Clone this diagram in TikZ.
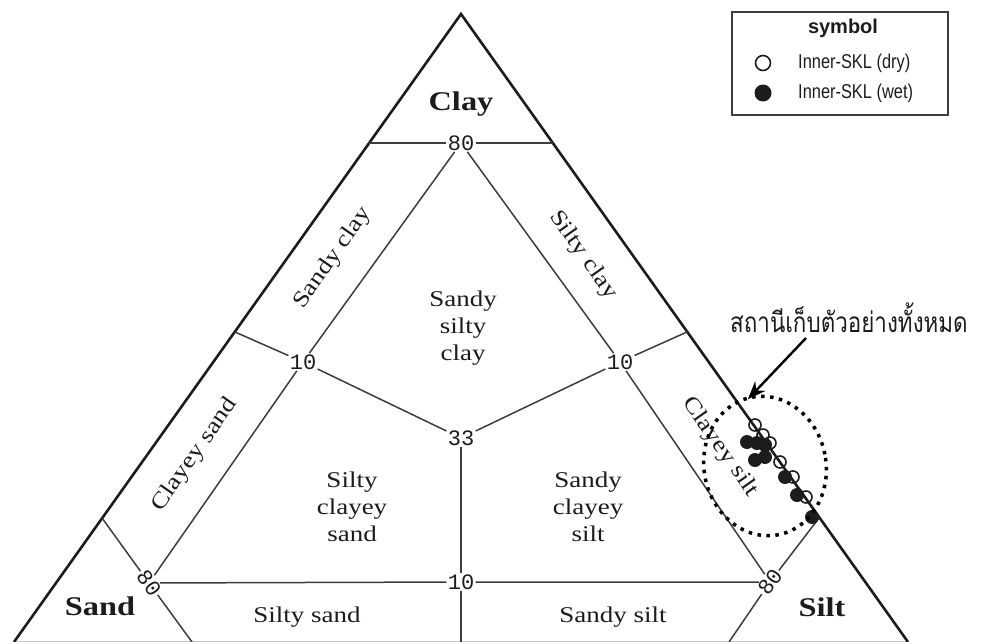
\documentclass[tikz,border=0pt]{standalone}
\usepackage{fontspec}
\setmainfont{Liberation Serif}
\newfontfamily\legendfont{Liberation Sans}
\newfontfamily\numfont{Liberation Mono}
\newfontfamily\thaifont[Script=Thai]{Loma}
\usepackage{graphicx}
\usepackage{tikz}
\usetikzlibrary{arrows.meta,positioning,shapes.geometric}
\definecolor{ink}{HTML}{1C1C1C}
\definecolor{rulegray}{HTML}{3C3C3C}
\definecolor{basegray}{HTML}{C8C8C8}
\newcommand{\wide}[1]{\scalebox{1.2}[1]{#1}}
\newcommand{\narrow}[1]{\scalebox{0.82}[1]{#1}}
\tikzset{
  >={Stealth[length=18pt,width=14pt]},
  every node/.style={text=ink},
  rim/.style={draw=ink,line width=2.6pt,line join=miter},
  base/.style={draw=basegray,line width=1pt},
  divider/.style={draw=rulegray,line width=1.5pt},
  pct/.style={fill=white,inner sep=1.2pt,font=\numfont\fontsize{22}{22}\selectfont},
  zone/.style={align=center,inner sep=0pt,font=\fontsize{22.5}{27}\selectfont},
  sidezone/.style={zone},
  major/.style={inner sep=0pt,font=\bfseries\fontsize{27}{27}\selectfont},
  legendbox/.style={draw=rulegray,line width=1.3pt,minimum width=216pt,minimum height=103pt,inner sep=0pt},
  legendhead/.style={inner sep=0pt,font=\legendfont\bfseries\fontsize{20}{20}\selectfont},
  keytext/.style={inner sep=0pt,font=\legendfont\fontsize{20}{20}\selectfont},
  dry/.style={circle,draw=ink,line width=1.6pt,minimum size=12pt,inner sep=0pt},
  wet/.style={circle,fill=ink,minimum size=14pt,inner sep=0pt},
  drykey/.style={dry,minimum size=15pt},
  wetkey/.style={wet,minimum size=17pt},
  group/.style={ellipse,draw=black,line width=3.5pt,dash pattern=on 3.5pt off 5.5pt,minimum width=122pt,minimum height=140pt},
  callout/.style={->,line width=2.4pt,draw=black,shorten >=-5pt},
  note/.style={inner sep=0pt,font=\thaifont\fontsize{28}{28}\selectfont}
}
\begin{document}
\begin{tikzpicture}[x=1pt,y=-1pt]
  \useasboundingbox (0,0) rectangle (982,642);
  % outer triangle
  \coordinate (apex) at (461,14);
  \coordinate (sandcorner) at (14,642);
  \coordinate (siltcorner) at (908,642);
  \draw[base] (14,641.5) -- (908,641.5);
  \draw[rim] (sandcorner) -- (apex) -- (siltcorner);

  % percentage marks
  \node[pct] (c80) at (461,143) {80};
  \node[pct] (l10) at (303,362) {10};
  \node[pct] (r10) at (620,362) {10};
  \node[pct] (mid33) at (461,438) {33};
  \node[pct] (b10) at (461,582) {10};
  \node[pct,rotate=-54] (l80) at (149,583) {80};
  \node[pct,rotate=54] (r80) at (770,582) {80};

  % where the dividers meet the rim or the bottom
  \coordinate (lc) at (369,143);
  \coordinate (rc) at (553,143);
  \coordinate (lm) at (235,332);
  \coordinate (rm) at (687,332);
  \coordinate (lb) at (102,518);
  \coordinate (rb) at (819,518);
  \coordinate (lfoot) at (192,642);
  \coordinate (mfoot) at (461,642);
  \coordinate (rfoot) at (729,642);

  \draw[divider] (lc) -- (c80) -- (rc);
  \draw[divider] (c80) -- (l10) -- (l80);
  \draw[divider] (c80) -- (r10) -- (r80);
  \draw[divider] (lm) -- (l10) -- (mid33) -- (r10) -- (rm);
  \draw[divider] (mid33) -- (b10) -- (mfoot);
  \draw[divider] (l80) -- (b10) -- (r80);
  \draw[divider] (lb) -- (l80) -- (lfoot);
  \draw[divider] (rb) -- (r80) -- (rfoot);

  % soil classes
  \node[major] (clay) at (461,104) {\wide{Clay}};
  \node[major] (sand) at (100,606) {\wide{Sand}};
  \node[major] (silt) at (822,607) {\wide{Silt}};
  \node[sidezone,rotate=55] (sandyclay) at (333,258) {\wide{Sandy clay}};
  \node[sidezone,rotate=-55] (siltyclay) at (583,255) {\wide{Silty clay}};
  \node[sidezone,rotate=55] (clayeysand) at (195,455) {\wide{Clayey sand}};
  \node[sidezone,rotate=-55] (clayeysilt) at (720,447) {\wide{Clayey silt}};
  \node[zone] (ssc) at (463,328) {\wide{Sandy}\\\wide{silty}\\\wide{clay}};
  \node[zone] (scs) at (352,507) {\wide{Silty}\\\wide{clayey}\\\wide{sand}};
  \node[zone] (scsilt) at (588,507) {\wide{Sandy}\\\wide{clayey}\\\wide{silt}};
  \node[zone] (siltysand) at (307,617) {\wide{Silty sand}};
  \node[zone] (sandysilt) at (613,617) {\wide{Sandy silt}};

  % legend
  \node[legendbox] (legend) at (840,63.5) {};
  \node[legendhead] (symbolhead) at (843,28) {symbol};
  \node[drykey] (drysym) at (763,63) {};
  \node[wetkey] (wetsym) at (763,93) {};
  \node[keytext,anchor=west] (drytext) at (798,63) {\narrow{Inner-SKL (dry)}};
  \node[keytext,anchor=west] (wettext) at (798,93) {\narrow{Inner-SKL (wet)}};

  % sampling stations
  \foreach \px/\py [count=\i] in {747/442,757/443,765/445,755/460,765/457,785/477,797/495,812/517}
    \node[wet] (w\i) at (\px,\py) {};
  \foreach \px/\py [count=\i] in {755/425,763/435,770/443,780/462,793/477,806/497}
    \node[dry] (d\i) at (\px,\py) {};

  \node[group,rotate=11] (stationgroup) at (765,466) {};
  \node[note,anchor=base west] (stations) at (730,332) {\scalebox{0.8}[1]{สถานีเก็บตัวอย่างทั้งหมด}};
  \coordinate (calloutstart) at (806,338);
  \draw[callout] (calloutstart) -- (stationgroup.north);
\end{tikzpicture}
\end{document}
